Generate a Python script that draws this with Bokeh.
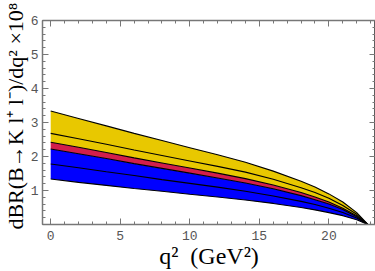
from bokeh.plotting import figure
from bokeh.models import LinearAxis, FixedTicker, Range1d, Title
from bokeh.embed import file_html
from bokeh.resources import INLINE

q2 = [0, 2, 4, 6, 8, 10, 12, 14, 16, 18, 19, 20, 21, 22, 22.8]
yellow_top = [3.34, 3.12, 2.90, 2.68, 2.47, 2.26, 2.05, 1.83, 1.57, 1.27, 1.10, 0.90, 0.66, 0.35, 0.0]
yellow_mid = [2.68, 2.52, 2.36, 2.19, 2.03, 1.87, 1.71, 1.54, 1.33, 1.08, 0.94, 0.77, 0.56, 0.30, 0.0]
red_top = [2.42, 2.27, 2.12, 1.96, 1.81, 1.66, 1.51, 1.35, 1.16, 0.94, 0.81, 0.66, 0.48, 0.26, 0.0]
blue_top = [2.22, 2.08, 1.94, 1.79, 1.65, 1.51, 1.37, 1.22, 1.05, 0.85, 0.73, 0.60, 0.44, 0.23, 0.0]
blue_mid = [1.78, 1.67, 1.55, 1.44, 1.32, 1.21, 1.10, 0.98, 0.84, 0.68, 0.59, 0.48, 0.35, 0.19, 0.0]
blue_bot = [1.34, 1.24, 1.15, 1.06, 0.98, 0.89, 0.81, 0.72, 0.62, 0.50, 0.43, 0.35, 0.26, 0.14, 0.0]

x_ticks = [0, 5, 10, 15, 20]
y_ticks = [1, 2, 3, 4, 5, 6]

p = figure(width=375, height=271, output_backend="svg", toolbar_location=None,
           x_range=Range1d(-0.59, 23.35), y_range=Range1d(0, 6),
           min_border_left=0, min_border_right=0, min_border_top=20, min_border_bottom=44,
           background_fill_color="white", border_fill_color="white")
p.xgrid.visible = False
p.ygrid.visible = False
p.outline_line_color = "#555555"

p.varea(x=q2, y1=red_top, y2=yellow_top, fill_color="#E8C800")
p.varea(x=q2, y1=blue_top, y2=red_top, fill_color="#D21E4B")
p.varea(x=q2, y1=blue_bot, y2=blue_top, fill_color="#0000FF")
for ys in [yellow_top, yellow_mid, red_top, blue_top, blue_mid, blue_bot]:
    p.line(q2, ys, line_color="black", line_width=1.1)

minor_x = [i for i in range(0, 24) if i % 5 != 0]
minor_y = [round(i * 0.2, 1) for i in range(0, 31) if i % 5 != 0]

def style(ax, ticks, minor, labels=True):
    ax.ticker = FixedTicker(ticks=ticks, minor_ticks=minor)
    ax.major_tick_in = 6
    ax.major_tick_out = 0
    ax.minor_tick_in = 3
    ax.minor_tick_out = 0
    ax.axis_line_color = "#777777"
    ax.axis_line_width = 1.5
    ax.major_tick_line_color = "#777777"
    ax.minor_tick_line_color = "#777777"
    if labels:
        ax.major_label_text_font = "Liberation Mono"
        ax.major_label_text_font_size = "13px"
        ax.major_label_text_color = "#555555"
        ax.major_label_standoff = 4
    else:
        ax.major_label_overrides = {t: "" for t in ticks}
        ax.major_label_standoff = 0

style(p.xaxis[0], x_ticks, minor_x)
style(p.yaxis[0], y_ticks, minor_y)
p.xaxis[0].major_label_standoff = 6
p.yaxis[0].major_label_standoff = 4
p.xaxis[0].axis_label = "q²\u00a0\u00a0(GeV²)"
p.xaxis[0].axis_label_text_font = "Liberation Serif"
p.xaxis[0].axis_label_text_font_size = "24px"
p.xaxis[0].axis_label_text_font_style = "normal"
p.xaxis[0].axis_label_text_color = "black"
p.xaxis[0].axis_label_standoff = 0

ytitle = Title(text="dBR(B→K l⁺ l⁻)/dq² ×10⁸", align="right", offset=-18,
               text_font="Liberation Serif", text_font_size="22px",
               text_font_style="normal", text_color="black", standoff=0)
p.add_layout(ytitle, "left")

top = LinearAxis()
style(top, x_ticks, minor_x, labels=False)
p.add_layout(top, "above")
right = LinearAxis()
style(right, y_ticks, minor_y, labels=False)
p.add_layout(right, "right")

open("out.html", "w").write(file_html(p, INLINE))
